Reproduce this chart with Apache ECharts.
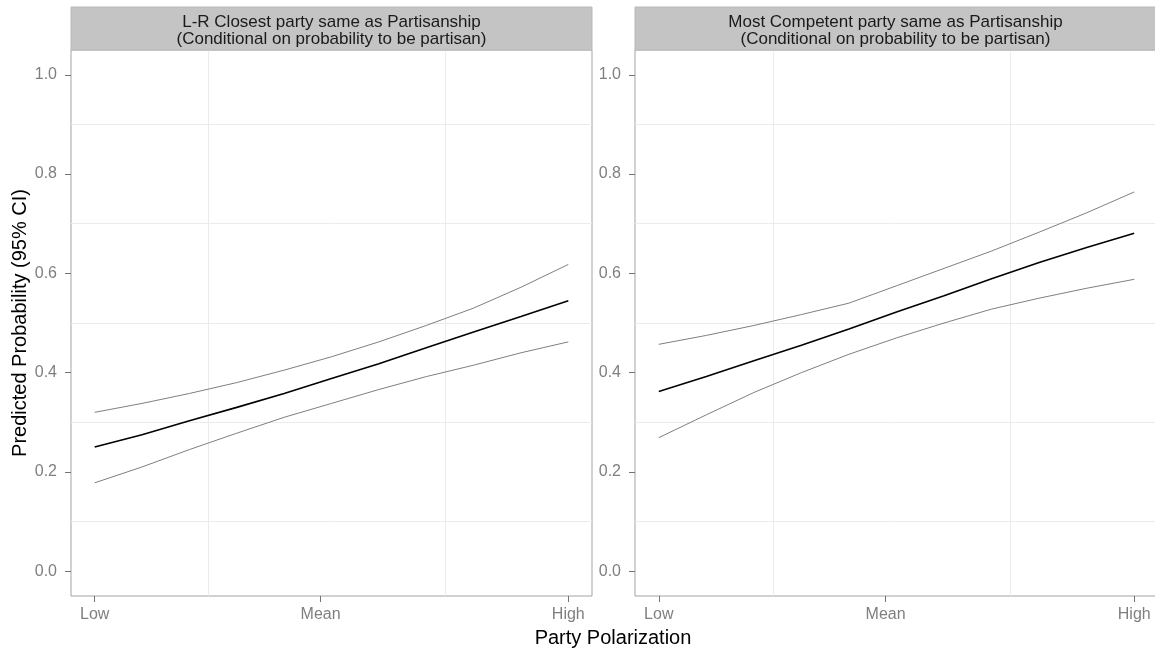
<!DOCTYPE html>
<html>
<head>
<meta charset="utf-8">
<script src="https://cdn.jsdelivr.net/npm/echarts@6/dist/echarts.min.js"></script>
<style>html,body{margin:0;padding:0;background:#fff}#c{width:1155px;height:651px}</style>
</head>
<body>
<div id="c"></div>
<script>
// ---- data ----
const xValues = [0, 0.1, 0.2, 0.3, 0.4, 0.5, 0.6, 0.7, 0.8, 0.9, 1.0];
const xTickValues = [0, 0.477, 1];
const xTickLabels = ['Low', 'Mean', 'High'];
const xMinorGrid = [0.2385, 0.7385];
const yTickValues = [0, 0.2, 0.4, 0.6, 0.8, 1.0];
const yMinorGrid = [0.1, 0.3, 0.5, 0.7, 0.9];
const panelTitles = [
  'L-R Closest party same as Partisanship\n(Conditional on probability to be partisan)',
  'Most Competent party same as Partisanship\n(Conditional on probability to be partisan)'
];
const leftMean  = [0.250, 0.275, 0.303, 0.330, 0.358, 0.388, 0.418, 0.450, 0.482, 0.513, 0.545];
const leftUpper = [0.320, 0.338, 0.358, 0.380, 0.405, 0.432, 0.462, 0.495, 0.530, 0.572, 0.618];
const leftLower = [0.178, 0.210, 0.245, 0.278, 0.310, 0.338, 0.366, 0.392, 0.415, 0.440, 0.462];
const rightMean  = [0.362, 0.392, 0.424, 0.455, 0.488, 0.522, 0.555, 0.589, 0.622, 0.652, 0.681];
const rightUpper = [0.457, 0.475, 0.495, 0.517, 0.540, 0.575, 0.610, 0.645, 0.683, 0.722, 0.764];
const rightLower = [0.269, 0.315, 0.360, 0.400, 0.437, 0.470, 0.500, 0.528, 0.550, 0.570, 0.588];

const panels = [
  {mean: leftMean, upper: leftUpper, lower: leftLower},
  {mean: rightMean, upper: rightUpper, lower: rightLower}
];

const pair = arr => xValues.map((x, i) => [x, arr[i]]);
const FONT = 'Liberation Sans, Arial, sans-serif';
const gridDefs = [
  {left: 71, top: 50, width: 521, height: 546},
  {left: 635, top: 50, width: 523, height: 546}
];

const grids = gridDefs.map(g => Object.assign({show: true, borderColor: '#a3a3a3', borderWidth: 1, backgroundColor: '#fff', containLabel: false, outerBoundsMode: 'none'}, g));
const xAxes = gridDefs.map((g, i) => ({
  type: 'value', gridIndex: i, min: -0.05, max: 1.05, position: 'bottom',
  axisLine: {show: false, onZero: false},
  splitLine: {show: false},
  axisTick: {show: true, customValues: xTickValues, length: 6, lineStyle: {color: '#737373'}},
  axisLabel: {show: true, customValues: xTickValues, margin: 11, color: '#7f7f7f', fontSize: 16, fontFamily: FONT, hideOverlap: false,
    formatter: v => { const k = xTickValues.findIndex(t => Math.abs(t - v) < 1e-6); return k >= 0 ? xTickLabels[k] : ''; }}
}));
const yAxes = gridDefs.map((g, i) => ({
  type: 'value', gridIndex: i, min: -0.05, max: 1.05, position: 'left',
  axisLine: {show: false, onZero: false},
  splitLine: {show: false},
  axisTick: {show: true, customValues: yTickValues, length: 6, lineStyle: {color: '#737373'}},
  axisLabel: {show: true, customValues: yTickValues, margin: 14, color: '#7f7f7f', fontSize: 16, fontFamily: FONT,
    formatter: v => v.toFixed(1)}
}));

const series = [];
panels.forEach((p, i) => {
  series.push({
    type: 'line', xAxisIndex: i, yAxisIndex: i, data: [], z: 1, silent: true,
    markLine: {
      silent: true, z: 1, symbol: ['none', 'none'], label: {show: false},
      lineStyle: {color: '#ebebeb', width: 1, type: 'solid'},
      emphasis: {disabled: true},
      data: xMinorGrid.map(v => ({xAxis: v})).concat(yMinorGrid.map(v => ({yAxis: v})))
    }
  });
  [['lower', '#7f7f7f', 1], ['upper', '#7f7f7f', 1], ['mean', '#000000', 1.6]].forEach(([k, c, w]) => {
    series.push({
      type: 'line', xAxisIndex: i, yAxisIndex: i, data: pair(p[k]), z: 3,
      showSymbol: false, symbol: 'none', smooth: false, silent: true,
      lineStyle: {color: c, width: w}
    });
  });
});

const graphics = [];
gridDefs.forEach((g, i) => {
  graphics.push({type: 'rect', shape: {x: g.left, y: 7, width: g.width, height: 43},
    style: {fill: '#c4c4c4', stroke: '#b8b8b8', lineWidth: 1}, z: 10});
  graphics.push({type: 'text', x: g.left + 260.5, y: 31,
    style: {text: panelTitles[i], fill: '#1a1a1a', font: '17px ' + FONT, textAlign: 'center', textVerticalAlign: 'middle', lineHeight: 16.5}, z: 11});
});
graphics.push({type: 'text', x: 613, y: 638,
  style: {text: 'Party Polarization', fill: '#000', font: '20px ' + FONT, textAlign: 'center', textVerticalAlign: 'middle'}});
graphics.push({type: 'text', x: 20, y: 323, rotation: Math.PI / 2,
  style: {text: 'Predicted Probability (95% CI)', fill: '#000', font: '20px ' + FONT, textAlign: 'center', textVerticalAlign: 'middle'}});

const chart = echarts.init(document.getElementById('c'), null, {renderer: 'canvas'});
chart.setOption({
  animation: false,
  backgroundColor: '#fff',
  grid: grids, xAxis: xAxes, yAxis: yAxes, series: series, graphic: graphics
});
</script>
</body>
</html>
